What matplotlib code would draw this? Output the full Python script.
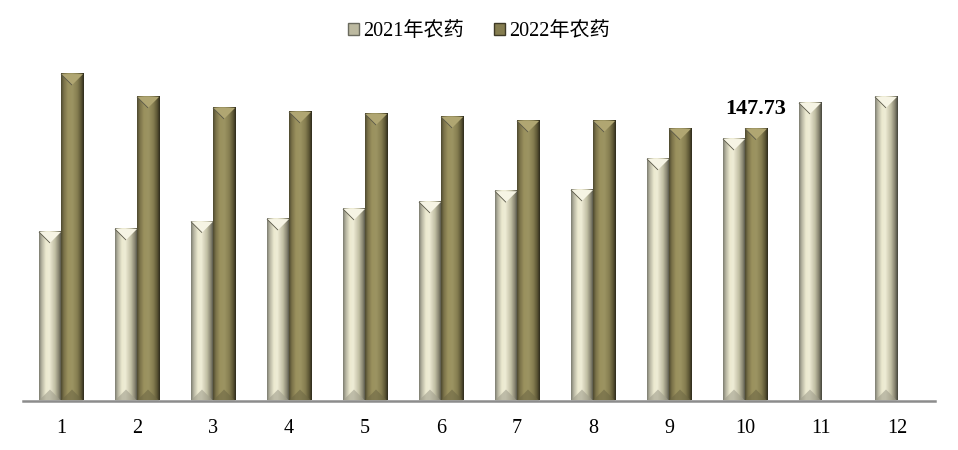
import numpy as np
import matplotlib
matplotlib.use('Agg')
import matplotlib.pyplot as plt
from matplotlib.patches import Polygon, Patch
from matplotlib.colors import LinearSegmentedColormap

plt.rcParams['font.family'] = ['Liberation Serif', 'Noto Sans CJK SC']

months = ['1', '2', '3', '4', '5', '6', '7', '8', '9', '10', '11', '12']
pest_2021 = [91.6, 93.2, 97.2, 98.6, 104.1, 107.9, 113.7, 114.4, 131.3, 142.1, 161.7, 165.0]
pest_2022 = [177.4, 165.0, 159.0, 156.8, 155.7, 154.1, 151.9, 151.9, 147.7, 147.73]
series_names = ['2021年农药', '2022年农药']

# bevel look: horizontal shading across each bar
cm_2021 = LinearSegmentedColormap.from_list('c21', [
    (0.0, '#7e7e72'), (0.12, '#b8b6a2'), (0.3, '#ece9d0'), (0.45, '#eeecd6'),
    (0.7, '#c2bfa4'), (0.88, '#85836f'), (1.0, '#45453c')])
cm_2022 = LinearSegmentedColormap.from_list('c22', [
    (0.0, '#4f4a30'), (0.12, '#7a7249'), (0.3, '#9a915e'), (0.5, '#9c9462'),
    (0.72, '#857d50'), (0.88, '#5e5836'), (1.0, '#2e2b1c')])
top_2021, bot_2021 = '#f6f4e4', '#a09e8c'
top_2022, bot_2022 = '#b0a672', '#6e6844'

fig = plt.figure(figsize=(9.58, 4.5), dpi=100)
ax = fig.add_axes([23 / 958, 49.5 / 450, 912 / 958, 350 / 450])

w = 0.29
ymax = 350 / 1.84
bev = 11 / 1.84  # bevel depth in data units (~11 px)
grad = np.linspace(0, 1, 64).reshape(1, -1)


def draw_bar(xc, h, cmap, ctop, cbot):
    x0, x1 = xc - w / 2, xc + w / 2
    ax.imshow(grad, cmap=cmap, extent=[x0, x1, 0, h], aspect='auto',
              interpolation='bilinear', zorder=2)
    ax.add_patch(Polygon([[x0, h], [x1, h], [xc, h - bev]], closed=True,
                         facecolor=ctop, edgecolor='none', zorder=3))
    ax.add_patch(Polygon([[x0, h], [xc, h - bev]], closed=False, fill=False,
                         edgecolor='#5a5848', lw=0.6, zorder=4))
    ax.add_patch(Polygon([[x0, 0], [x1, 0], [xc, bev]], closed=True,
                         facecolor=cbot, edgecolor='none', alpha=0.6, zorder=3))


x = np.arange(len(months))
for i, v in enumerate(pest_2021):
    draw_bar(x[i] - w / 2, v, cm_2021, top_2021, bot_2021)
for i, v in enumerate(pest_2022):
    draw_bar(x[i] + w / 2, v, cm_2022, top_2022, bot_2022)

# only the latest 2022 value is labelled
last = len(pest_2022) - 1
ax.annotate(f'{pest_2022[last]:.2f}', (x[last] + w / 2, pest_2022[last]),
            xytext=(0, 7), textcoords='offset points', ha='center', va='bottom',
            fontsize=16, fontweight='bold', color='black')

ax.set_xlim(-0.5, len(months) - 0.5)
ax.set_ylim(0, ymax)
ax.set_xticks(x)
ax.set_xticklabels(months, fontsize=14.5)
ax.tick_params(axis='x', length=0, pad=13)
ax.set_yticks([])
for s in ['top', 'right', 'left']:
    ax.spines[s].set_visible(False)
ax.spines['bottom'].set_color('#8c8c8c')
ax.spines['bottom'].set_linewidth(1.8)
ax.spines['bottom'].set_zorder(5)

handles = [Patch(facecolor='#bcb9a0', edgecolor='#6a6a5e'),
           Patch(facecolor='#857d50', edgecolor='#3e3a26')]
fig.legend(handles, series_names, loc='center', bbox_to_anchor=(0.5, 1 - 32 / 450),
           ncol=2, frameon=False, fontsize=14.5, handlelength=0.55, handleheight=0.55,
           handletextpad=0.2, columnspacing=1.5)

plt.savefig('out.png', dpi=100)
